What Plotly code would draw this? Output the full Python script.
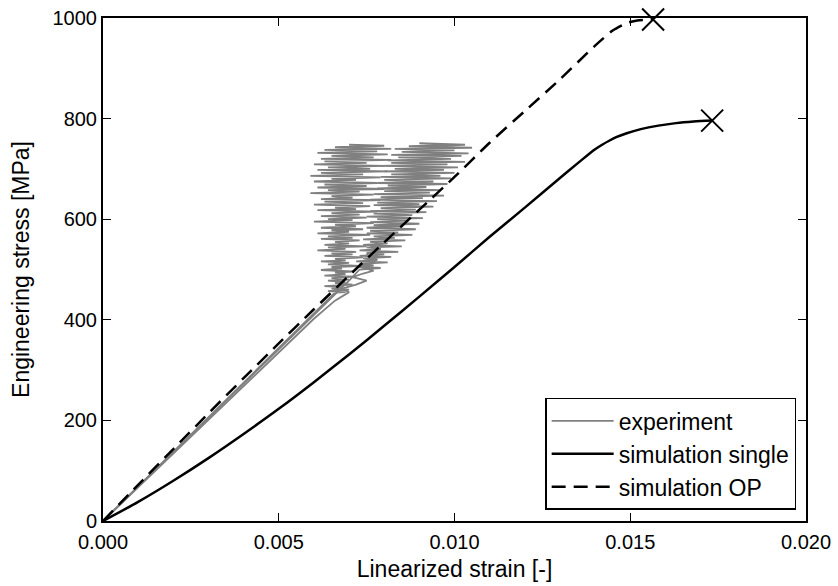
import plotly.graph_objects as go

# ---------------- data ----------------
single_strain = [0, 0.001, 0.002, 0.003, 0.004, 0.005, 0.006, 0.007, 0.008, 0.009, 0.010,
                 0.011, 0.012, 0.013, 0.0135, 0.0138, 0.0140, 0.0142, 0.0144, 0.0146,
                 0.0149, 0.0153, 0.0158, 0.0163, 0.0168, 0.01733]
single_stress = [0, 38, 80, 125, 173, 223, 276, 331, 388, 446, 505,
                 565, 623, 682, 711, 728, 739, 748, 756, 763,
                 771, 779, 786, 791, 794, 796]

op_strain = [0, 0.001, 0.002, 0.003, 0.004, 0.005, 0.006, 0.007, 0.008, 0.009, 0.010,
             0.011, 0.012, 0.013, 0.014, 0.0145, 0.0149, 0.0152, 0.01565]
op_stress = [0, 72, 143, 214, 284, 353, 421, 488, 554, 619, 684,
             752, 815, 878, 945, 975, 990, 995, 997]

single_fail_strain = [0.01733]
single_fail_stress = [796]
op_fail_strain = [0.01565]
op_fail_stress = [997]

exp1_strain = [0, 0.002, 0.004, 0.0055, 0.0062, 0.0066,
               0.0069, 0.0064, 0.0070, 0.0065, 0.0068, 0.0063, 0.0071, 0.0066, 0.0069, 0.0064,
               0.0070, 0.0065, 0.0072, 0.0063, 0.0069, 0.0066, 0.0071, 0.0062, 0.0068, 0.0065,
               0.0073, 0.0064, 0.0070, 0.0062, 0.0069, 0.0066, 0.0074, 0.0063, 0.0071, 0.0065,
               0.0072, 0.0061, 0.0069, 0.0064, 0.0075, 0.0063, 0.0070, 0.0066, 0.0073, 0.0062,
               0.0071, 0.0064, 0.0076, 0.0061, 0.0070, 0.0065, 0.0074, 0.0062, 0.0072, 0.0066,
               0.0077, 0.0060, 0.0071, 0.0064, 0.0075, 0.0062, 0.0073, 0.0065, 0.0078, 0.0061,
               0.0072, 0.0066, 0.0076, 0.0060, 0.0074, 0.0063, 0.0079, 0.0062, 0.0071, 0.0065,
               0.0077, 0.0059, 0.0073, 0.0064, 0.0080, 0.0061, 0.0075, 0.0063, 0.0078, 0.0060,
               0.0072, 0.0065, 0.0079, 0.0059, 0.0074, 0.0062, 0.0081, 0.0061, 0.0076, 0.0064,
               0.0080, 0.0060, 0.0075, 0.0063, 0.0082, 0.0062, 0.0077, 0.0065, 0.0081, 0.0061,
               0.0078, 0.0063, 0.0082, 0.0066, 0.0080, 0.0070]
exp1_stress = [0, 138, 276, 380, 428, 454,
               455, 457, 460, 462, 465, 467, 470, 473, 475, 478,
               480, 483, 486, 488, 491, 494, 496, 499, 502, 505,
               507, 510, 513, 516, 518, 521, 524, 527, 530, 532,
               535, 538, 541, 544, 546, 549, 552, 555, 558, 561,
               563, 566, 569, 572, 575, 578, 580, 583, 586, 589,
               592, 595, 598, 600, 603, 606, 609, 612, 615, 618,
               620, 623, 626, 629, 632, 635, 638, 640, 643, 646,
               649, 652, 655, 658, 660, 663, 666, 669, 672, 675,
               678, 680, 683, 686, 689, 692, 695, 698, 700, 703,
               706, 709, 712, 715, 718, 720, 723, 726, 729, 732,
               735, 738, 740, 743, 746, 748]

exp2_strain = [0, 0.002, 0.004, 0.006, 0.0070, 0.0073,
               0.0079, 0.0072, 0.0077, 0.0073, 0.0081, 0.0072, 0.0078, 0.0074, 0.0082, 0.0073,
               0.0080, 0.0075, 0.0084, 0.0073, 0.0079, 0.0075, 0.0085, 0.0074, 0.0081, 0.0076,
               0.0086, 0.0074, 0.0083, 0.0077, 0.0088, 0.0075, 0.0084, 0.0076, 0.0089, 0.0075,
               0.0085, 0.0077, 0.0090, 0.0076, 0.0087, 0.0078, 0.0091, 0.0075, 0.0088, 0.0077,
               0.0092, 0.0076, 0.0089, 0.0079, 0.0094, 0.0077, 0.0090, 0.0078, 0.0095, 0.0076,
               0.0091, 0.0079, 0.0097, 0.0077, 0.0093, 0.0080, 0.0096, 0.0078, 0.0092, 0.0081,
               0.0098, 0.0078, 0.0094, 0.0080, 0.0099, 0.0079, 0.0096, 0.0082, 0.0100, 0.0080,
               0.0097, 0.0083, 0.0101, 0.0079, 0.0098, 0.0082, 0.0103, 0.0081, 0.0099, 0.0084,
               0.0102, 0.0082, 0.0104, 0.0085, 0.0100, 0.0083, 0.0105, 0.0087, 0.0103, 0.0090]
exp2_stress = [0, 136, 273, 410, 478, 500,
               503, 506, 508, 511, 514, 516, 519, 522, 525, 527,
               530, 533, 535, 538, 541, 544, 546, 549, 552, 555,
               558, 560, 563, 566, 569, 572, 574, 577, 580, 583,
               586, 588, 591, 594, 597, 600, 602, 605, 608, 611,
               614, 616, 619, 622, 625, 628, 630, 633, 636, 639,
               642, 644, 647, 650, 653, 656, 658, 661, 664, 667,
               670, 672, 675, 678, 681, 684, 686, 689, 692, 695,
               698, 700, 703, 706, 709, 712, 714, 717, 720, 723,
               726, 728, 731, 734, 737, 740, 742, 745, 748, 751]

exp3_strain = [0, 0.002, 0.004, 0.006, 0.0066, 0.0070, 0.0068, 0.0072, 0.0075, 0.0071,
               0.0074, 0.0077, 0.0073, 0.0076, 0.0078, 0.0075, 0.0079, 0.0076]
exp3_stress = [0, 134, 268, 402, 438, 455, 462, 470, 478, 485,
               492, 498, 505, 512, 520, 530, 540, 548]

x_ticks = [0, 0.005, 0.010, 0.015, 0.020]
x_tick_labels = ["0.000", "0.005", "0.010", "0.015", "0.020"]
y_ticks = [0, 200, 400, 600, 800, 1000]
y_tick_labels = ["0", "200", "400", "600", "800", "1000"]

# ---------------- figure ----------------
GREY = "#808080"
FONT = "Liberation Sans, Arial, sans-serif"
fig = go.Figure()

exps = [(exp1_strain, exp1_stress), (exp2_strain, exp2_stress), (exp3_strain, exp3_stress)]
for i, (xs, ys) in enumerate(exps):
    fig.add_trace(go.Scatter(x=xs, y=ys, mode="lines", name="experiment",
                             line=dict(color=GREY, width=1.8),
                             showlegend=(i == 0), legendgroup="exp"))

fig.add_trace(go.Scatter(x=single_strain, y=single_stress, mode="lines",
                         name="simulation single",
                         line=dict(color="black", width=2.5, shape="spline", smoothing=0.8)))
fig.add_trace(go.Scatter(x=op_strain, y=op_stress, mode="lines",
                         name="simulation OP",
                         line=dict(color="black", width=2.5, dash="14px,8px",
                                   shape="spline", smoothing=0.6)))

for xs, ys in ((single_fail_strain, single_fail_stress), (op_fail_strain, op_fail_stress)):
    fig.add_trace(go.Scatter(x=xs, y=ys, mode="markers", showlegend=False,
                             cliponaxis=False,
                             marker=dict(symbol="x-thin", size=22,
                                         line=dict(color="black", width=2))))

axis_common = dict(showgrid=False, zeroline=False, showline=True, linewidth=2,
                   linecolor="black", mirror="ticks", ticks="inside", ticklen=8,
                   tickwidth=1, tickcolor="black", automargin=False,
                   tickfont=dict(family=FONT, size=20, color="black"))

fig.update_layout(
    width=838, height=586,
    margin=dict(l=103, r=32, t=18, b=65, autoexpand=False),
    plot_bgcolor="white", paper_bgcolor="white",
    font=dict(family=FONT, color="black"),
    xaxis=dict(range=[0, 0.020], tickvals=x_ticks, ticktext=x_tick_labels,
               ticklabelstandoff=2,
               title=dict(text="Linearized strain [-]", font=dict(size=23), standoff=9),
               **axis_common),
    yaxis=dict(range=[0, 1000], tickvals=y_ticks, ticktext=y_tick_labels,
               title=dict(text="Engineering stress [MPa]", font=dict(size=23), standoff=16),
               **axis_common),
    legend=dict(x=0.986, y=0.022, xanchor="right", yanchor="bottom",
                bgcolor="white", bordercolor="black", borderwidth=1.5,
                font=dict(size=23), itemwidth=62, tracegroupgap=0),
    showlegend=True,
)

fig.write_html("out.html", config={"displayModeBar": False},
               post_script="document.body.style.margin='0';document.body.style.padding='0';")
